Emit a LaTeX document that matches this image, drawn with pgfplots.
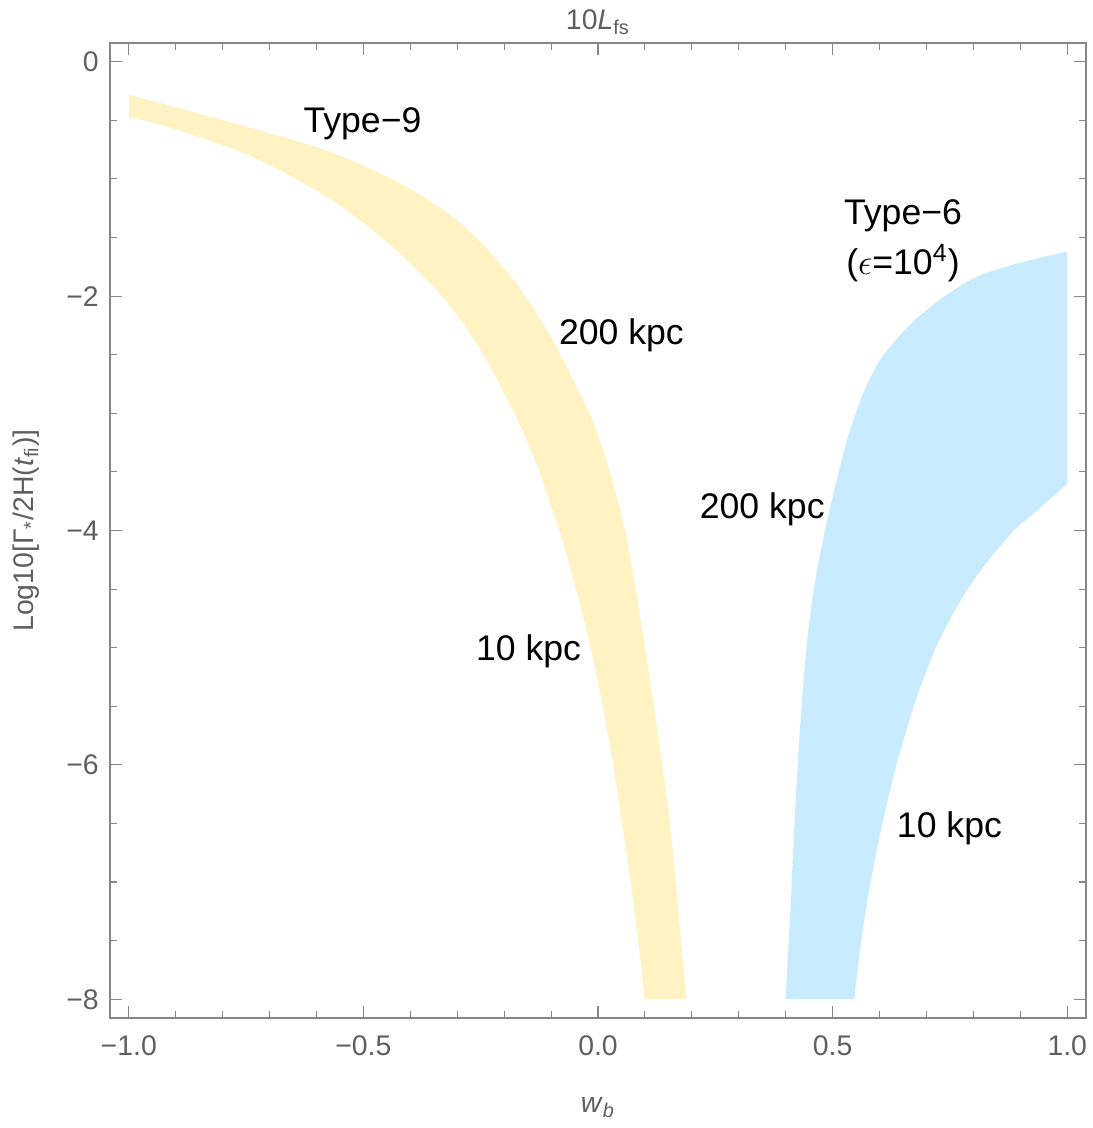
\documentclass[border=0pt]{standalone}
\usepackage{fontspec}
\setmainfont{Liberation Sans}
\usepackage{pgfplots}
\pgfplotsset{compat=1.18}
\usepgfplotslibrary{fillbetween}
\definecolor{yband}{RGB}{255,242,195}
\definecolor{bband}{RGB}{200,236,253}
\definecolor{framegray}{RGB}{135,135,135}
\definecolor{labelgray}{RGB}{95,95,95}
\begin{document}
\begin{tikzpicture}
\begin{axis}[
  scale only axis, width=390.4bp, height=390bp,
  xmin=-1.04, xmax=1.04, ymin=-8.16, ymax=0.16,
  xtick={-1,-0.5,0,0.5,1}, xticklabels={−1.0,−0.5,0.0,0.5,1.0},
  minor xtick={-0.9,-0.8,-0.7,-0.6,-0.4,-0.3,-0.2,-0.1,0.1,0.2,0.3,0.4,0.6,0.7,0.8,0.9},
  ytick={-8,-6,-4,-2,0}, yticklabels={−8,−6,−4,−2,0},
  minor ytick={-7.5,-7,-6.5,-5.5,-5,-4.5,-3.5,-3,-2.5,-1.5,-1,-0.5},
  tick align=inside, major tick length=4.8bp, minor tick length=2.8bp,
  every tick/.style={color=framegray, line width=0.45bp},
  axis line style={framegray, line width=0.6bp},
  ticklabel style={font=\fontsize{11.4}{13}\selectfont, text=labelgray},
  xticklabel style={yshift=-3.4bp},
  yticklabel style={xshift=-1bp},
  label style={font=\fontsize{11.4}{13}\selectfont, text=labelgray},
  xlabel={\textit{w}\textsubscript{\textit{b}}},
  xlabel style={at={(axis description cs:0.5,-0.0923)}, anchor=center},
  ylabel={Log10[Γ\textsubscript{*}/2H(\textit{t}\textsubscript{fi})]},
  ylabel style={at={(axis description cs:-0.0861,0.5)}, anchor=center},
  every axis title shift=0pt,
  title={10\textit{L}\textsubscript{fs}},
  title style={font=\fontsize{11.4}{13}\selectfont, text=labelgray, at={(axis description cs:0.5,1.0215)}, anchor=center},
]
\coordinate (SW) at (rel axis cs:0,0);
% Type-9 band: outer (200 kpc) and inner (10 kpc) edges
\addplot[name path=Yout, draw=none, smooth, tension=0.5] coordinates {
(-1.0,-0.28) (-0.826,-0.47) (-0.591,-0.74) (-0.435,-1.01) (-0.328,-1.27)
(-0.257,-1.51) (-0.186,-1.83) (-0.150,-2.03) (-0.100,-2.35) (-0.055,-2.70)
(-0.010,-3.08) (0.022,-3.46) (0.049,-3.85) (0.070,-4.25) (0.090,-4.74)
(0.108,-5.20) (0.128,-5.75) (0.149,-6.35) (0.166,-7.01) (0.188,-8.0)
};
\addplot[name path=Yin, draw=none, smooth, tension=0.5] coordinates {
(-1.0,-0.47) (-0.897,-0.58) (-0.755,-0.78) (-0.648,-0.99) (-0.541,-1.25)
(-0.435,-1.59) (-0.364,-1.86) (-0.332,-2.00) (-0.295,-2.19) (-0.250,-2.46)
(-0.214,-2.72) (-0.164,-3.12) (-0.125,-3.50) (-0.088,-3.93) (-0.055,-4.38)
(-0.017,-4.98) (0.021,-5.73) (0.049,-6.44) (0.070,-7.01) (0.088,-7.58)
(0.099,-8.0)
};
\addplot[fill=yband, draw=none] fill between[of=Yout and Yin];
% Type-6 band
\addplot[name path=Bout, draw=none, smooth, tension=0.5] coordinates {
(0.400,-8.0) (0.411,-7.156) (0.419,-6.473) (0.4275,-5.875) (0.4365,-5.363)
(0.446,-4.936) (0.458,-4.552) (0.473,-4.210) (0.495,-3.80) (0.529,-3.25)
(0.560,-2.88) (0.585,-2.66) (0.611,-2.49) (0.668,-2.23) (0.739,-2.00)
(0.810,-1.83) (0.903,-1.71) (1.0,-1.62)
};
\addplot[name path=Bin, draw=none, smooth, tension=0.5] coordinates {
(0.546,-8.0) (0.561,-7.5) (0.581,-7.0) (0.606,-6.5) (0.636,-6.0)
(0.677,-5.45) (0.718,-5.02) (0.761,-4.68) (0.810,-4.37) (0.882,-4.02)
(0.953,-3.77) (1.0,-3.60)
};
\addplot[fill=bband, draw=none] fill between[of=Bout and Bin];
\begin{scope}[every node/.style={anchor=base, font=\fontsize{14.3}{16}\selectfont, text=black, inner sep=0pt}]
\node at (axis cs:-0.502,-0.604) {Type−9};
\node at (axis cs:0.050,-2.417) {200 kpc};
\node at (axis cs:-0.148,-5.107) {10 kpc};
\node at (axis cs:0.650,-1.392) {Type−6};
\node at (axis cs:0.650,-1.819) {($\epsilon$=10\textsuperscript{4})};
\node at (axis cs:0.350,-3.894) {200 kpc};
\node at (axis cs:0.749,-6.62) {10 kpc};
\end{scope}
\end{axis}
\pgfresetboundingbox
\path[use as bounding box] (SW) ++(-44bp,-44bp) rectangle ++(437.2bp,451.2bp);
\end{tikzpicture}
\end{document}
